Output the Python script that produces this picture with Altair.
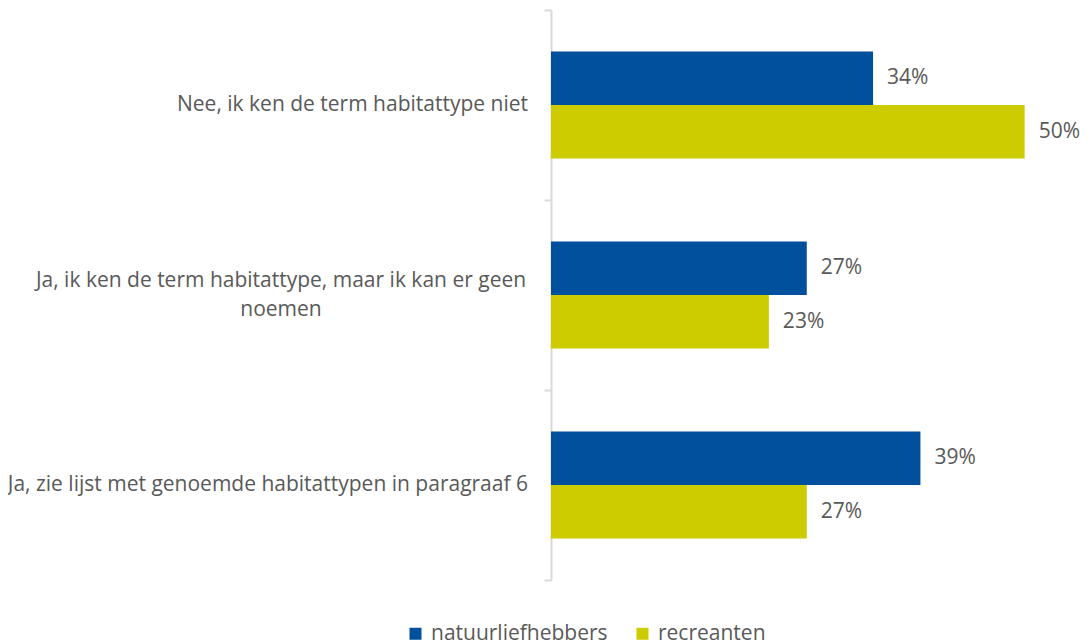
import altair as alt
import pandas as pd

categories = [
    "Nee, ik ken de term habitattype niet",
    "Ja, ik ken de term habitattype, maar ik kan er geen|noemen",
    "Ja, zie lijst met genoemde habitattypen in paragraaf 6",
]
series = ["natuurliefhebbers", "recreanten"]
natuur = [34, 27, 39]
recreanten = [50, 23, 27]
colors = ["#00509D", "#CCCC00"]

rows = []
for c, a, b in zip(categories, natuur, recreanten):
    rows.append({"cat": c, "groep": series[0], "val": a, "lab": f"{a}%"})
    rows.append({"cat": c, "groep": series[1], "val": b, "lab": f"{b}%"})
df = pd.DataFrame(rows)
cat_df = pd.DataFrame({"cat": categories})

FONT = "Open Sans"
GRAY = "#595959"
FS = 21

y = alt.Y(
    "cat:N",
    sort=categories,
    title=None,
    scale=alt.Scale(paddingInner=0, paddingOuter=0),
    axis=alt.Axis(
        tickBand="extent",
        domainColor="#d9d9d9",
        domainWidth=2,
        tickColor="#d9d9d9",
        tickWidth=2,
        tickSize=7,
        labels=False,
    ),
)
yoff = alt.YOffset(
    "groep:N",
    sort=series,
    scale=alt.Scale(paddingInner=0, paddingOuter=0.776),
)
x = alt.X(
    "val:Q",
    scale=alt.Scale(domain=[0, 55], nice=False),
    axis=None,
)

bars = alt.Chart(df).mark_bar().encode(
    x=x,
    y=y,
    yOffset=yoff,
    color=alt.Color(
        "groep:N",
        sort=series,
        scale=alt.Scale(domain=series, range=colors),
        legend=alt.Legend(
            title=None,
            orient="none",
            legendX=-146,
            legendY=613,
            direction="horizontal",
            symbolType="square",
            symbolSize=144,
            symbolStrokeWidth=0,
            labelFont=FONT,
            labelFontSize=FS,
            labelColor=GRAY,
            labelOffset=5,
            labelLimit=400,
            columnPadding=24,
        ),
    ),
)

text = alt.Chart(df).mark_text(
    align="left", baseline="middle", dx=14, font=FONT, fontSize=FS, color=GRAY
).encode(x=x, y=y, yOffset=yoff, text="lab:N")

ylab1 = alt.Chart(cat_df).transform_filter(
    "indexof(datum.cat, '|') < 0"
).mark_text(
    align="right", baseline="middle", font=FONT, fontSize=FS, color=GRAY
).encode(
    y=alt.Y("cat:N", sort=categories),
    x=alt.value(-23),
    text="cat:N",
)

ylab2 = alt.Chart(cat_df).transform_filter(
    "indexof(datum.cat, '|') >= 0"
).mark_text(
    align="center", baseline="middle", font=FONT, fontSize=FS, color=GRAY,
    lineBreak="|", lineHeight=29, dy=-14,
).encode(
    y=alt.Y("cat:N", sort=categories),
    x=alt.value(-270),
    text="cat:N",
)

chart = (
    alt.layer(bars, text, ylab1, ylab2)
    .properties(
        width=521,
        height=570,
        autosize=alt.AutoSizeParams(type="none"),
        padding={"top": 2, "left": 543, "right": 10, "bottom": 70},
    )
    .configure(background="white")
    .configure_view(stroke=None)
)

chart.save("out.html", embed_options={"renderer": "svg", "actions": False})
